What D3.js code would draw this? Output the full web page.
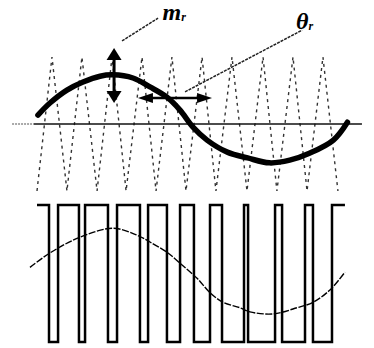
<!DOCTYPE html>
<html>
<head>
<meta charset="utf-8">
<script src="https://cdn.jsdelivr.net/npm/d3@7"></script>
<style>
  html, body { margin: 0; padding: 0; background: #fff; }
  svg { display: block; }
</style>
</head>
<body>
<svg id="chart" width="374" height="348"></svg>
<script>
// ---- data (time in ms over one reference period; values in normalized units) ----
// triangular carrier vertices (valley, peak, valley, ...)
const carrierTimes  = [0, 0.96, 1.92, 2.88, 3.85, 4.81, 5.71, 6.73, 7.63, 8.65, 9.55,
                       10.58, 11.47, 12.5, 13.46, 14.49, 15.38, 16.41, 17.31, 18.33, 19.29];
const carrierLevels = [-1.5, 1.5, -1.5, 1.5, -1.5, 1.5, -1.5, 1.5, -1.5, 1.5, -1.5,
                       1.5, -1.5, 1.5, -1.5, 1.5, -1.5, 1.5, -1.5, 1.5, -1.5];

// reference (modulating) wave
const refTimes  = [0.06, 0.83, 1.92, 2.95, 4.04, 4.87, 6.15, 7.24, 8.33, 9.17, 10.0,
                   10.9, 12.2, 13.5, 14.9, 16.2, 17.5, 19.0, 19.9];
const refValues = [0.20, 0.47, 0.76, 0.94, 1.07, 1.10, 1.03, 0.83, 0.60, 0.31, -0.07,
                   -0.36, -0.63, -0.76, -0.87, -0.81, -0.65, -0.36, 0.04];

// PWM output: switching instants, starting high
const pwmStart = 0;
const pwmEnd = 19.74;
const pwmStartLevel = 1;
const pwmEdges = [0.77, 1.35, 2.69, 3.08, 4.55, 5.13, 6.60, 7.12, 8.33, 9.17,
                  10.06, 11.09, 11.86, 13.27, 13.53, 15.26, 15.71, 17.18, 17.69, 18.91];

// fundamental of the PWM output
const outTimes  = [-0.45, 0.83, 2.76, 4.87, 6.41, 7.24, 8.33, 9.17, 10.26, 11.09, 11.92,
                   13.01, 13.65, 15.13, 16.67, 17.69, 18.78, 19.74];
const outValues = [0.09, 0.30, 0.53, 0.66, 0.56, 0.46, 0.31, 0.15, -0.07, -0.28, -0.42,
                   -0.50, -0.56, -0.59, -0.50, -0.42, -0.24, 0.02];

// annotation labels
const labelMain = ["m", "θ"];
const labelSub = ["r", "r"];

// ---- scales ----
const svg = d3.select("#chart");
const x = d3.scaleLinear().domain([0, 20]).range([37, 349]);
const yTop = d3.scaleLinear().domain([-1.5, 1.5]).range([191, 57]);
const yBot = d3.scaleLinear().domain([-1, 1]).range([342, 205]);

svg.append("rect").attr("width", 374).attr("height", 348).attr("fill", "#fff");

// ---- top panel ----
// carrier
const carrierPts = carrierTimes.map((t, i) => [t, carrierLevels[i]]);
svg.append("path")
  .attr("d", d3.line().x(d => x(d[0])).y(d => yTop(d[1]))(carrierPts))
  .attr("fill", "none").attr("stroke", "#333").attr("stroke-width", 1.4)
  .attr("stroke-dasharray", "3,4");

// horizontal axis
svg.append("line")
  .attr("x1", x(-1.6)).attr("x2", x(-0.2)).attr("y1", yTop(0)).attr("y2", yTop(0))
  .attr("stroke", "#555").attr("stroke-width", 1.2).attr("stroke-dasharray", "2,1");
svg.append("line")
  .attr("x1", x(-0.2)).attr("x2", x(20.83)).attr("y1", yTop(0)).attr("y2", yTop(0))
  .attr("stroke", "#111").attr("stroke-width", 1.6);

// reference sine (thick)
const refPts = refTimes.map((t, i) => [t, refValues[i]]);
svg.append("path")
  .attr("d", d3.line().curve(d3.curveCatmullRom).x(d => x(d[0])).y(d => yTop(d[1]))(refPts))
  .attr("fill", "none").attr("stroke", "#000").attr("stroke-width", 5.5)
  .attr("stroke-linecap", "round");

// arrows
function arrowHead(tipX, tipY, dirX, dirY, len, half) {
  const bx = tipX - dirX * len, by = tipY - dirY * len;
  const px = -dirY * half, py = dirX * half;
  return `M${tipX},${tipY}L${bx + px},${by + py}L${bx - px},${by - py}Z`;
}
// vertical double arrow (amplitude)
const vaX = x(4.94), vaTop = yTop(1.70), vaBot = yTop(0.47);
svg.append("line").attr("x1", vaX).attr("x2", vaX).attr("y1", vaTop + 8).attr("y2", vaBot - 8)
  .attr("stroke", "#000").attr("stroke-width", 3);
svg.append("path").attr("d", arrowHead(vaX, vaTop, 0, -1, 12, 7.5)).attr("fill", "#000");
svg.append("path").attr("d", arrowHead(vaX, vaBot, 0, 1, 12, 7.5)).attr("fill", "#000");

// horizontal double arrow (phase)
const haY = yTop(0.58), haL = x(6.47), haR = x(11.22);
svg.append("line").attr("x1", haL + 8).attr("x2", haR - 8).attr("y1", haY).attr("y2", haY)
  .attr("stroke", "#000").attr("stroke-width", 2.5);
svg.append("path").attr("d", arrowHead(haL, haY, -1, 0, 15, 5)).attr("fill", "#000");
svg.append("path").attr("d", arrowHead(haR, haY, 1, 0, 15, 5)).attr("fill", "#000");

// leader lines
svg.append("line")
  .attr("x1", x(5.45)).attr("y1", yTop(1.86)).attr("x2", x(7.76)).attr("y2", yTop(2.37))
  .attr("stroke", "#222").attr("stroke-width", 1.5).attr("stroke-dasharray", "3,1");
svg.append("line")
  .attr("x1", x(9.49)).attr("y1", yTop(0.72)).attr("x2", x(16.99)).attr("y2", yTop(2.10))
  .attr("stroke", "#222").attr("stroke-width", 1.5).attr("stroke-dasharray", "3,1");

// labels
const labelPos = [[8.05, 2.33], [16.6, 2.12]];
labelMain.forEach((s, i) => {
  const t = svg.append("text")
    .attr("x", x(labelPos[i][0])).attr("y", yTop(labelPos[i][1]))
    .attr("font-family", "'Liberation Serif', 'Times New Roman', serif")
    .attr("font-style", "italic").attr("font-weight", "bold")
    .attr("font-size", 24).attr("fill", "#000");
  t.append("tspan").text(s);
  t.append("tspan").text(labelSub[i]).attr("font-size", 12).attr("dy", 1);
});

// ---- bottom panel ----
// PWM waveform
const pwmPts = [[pwmStart, pwmStartLevel]];
let lvl = pwmStartLevel;
pwmEdges.forEach(e => { lvl = -lvl; pwmPts.push([e, lvl]); });
pwmPts.push([pwmEnd, lvl]);
svg.append("path")
  .attr("d", d3.line().curve(d3.curveStepAfter).x(d => x(d[0])).y(d => yBot(d[1]))(pwmPts))
  .attr("fill", "none").attr("stroke", "#000").attr("stroke-width", 2.5)
  .attr("stroke-linejoin", "miter");

// output fundamental
const outPts = outTimes.map((t, i) => [t, outValues[i]]);
svg.append("path")
  .attr("d", d3.line().curve(d3.curveCatmullRom).x(d => x(d[0])).y(d => yBot(d[1]))(outPts))
  .attr("fill", "none").attr("stroke", "#000").attr("stroke-width", 1.4)
  .attr("stroke-dasharray", "7,1.5");
</script>
</body>
</html>
